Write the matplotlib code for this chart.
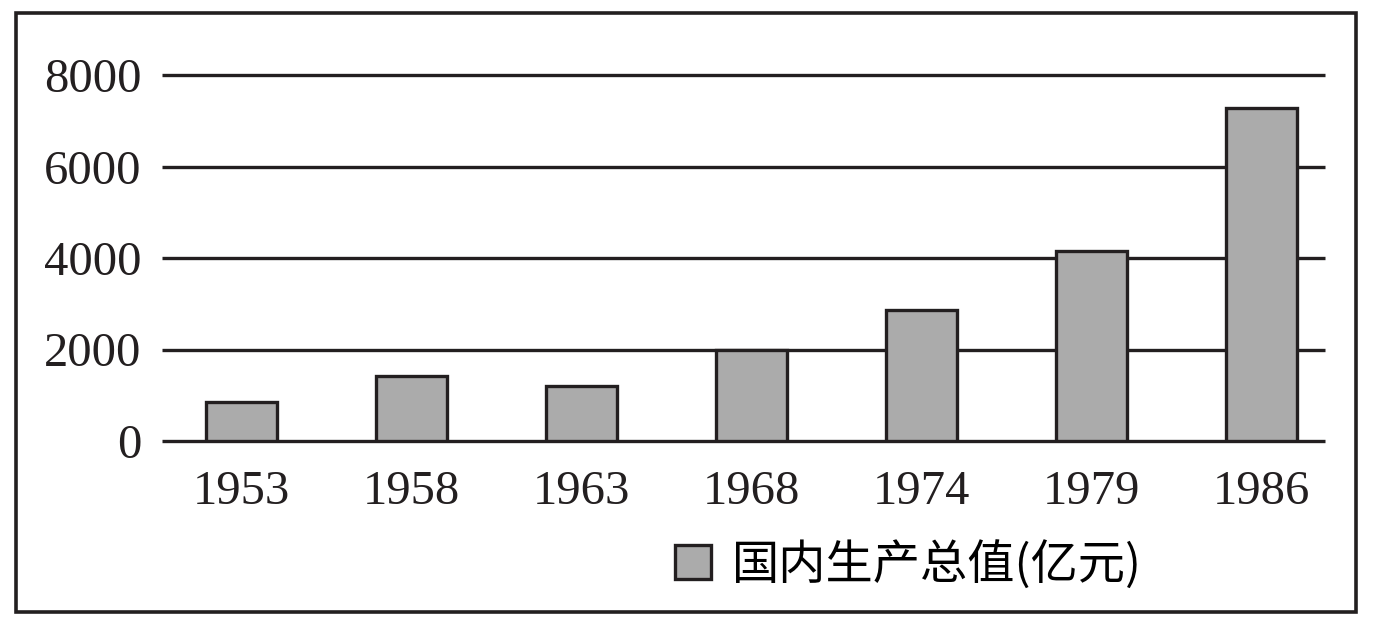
import matplotlib
matplotlib.use("Agg")
import matplotlib.pyplot as plt
from matplotlib.patches import Patch, Rectangle

# -------- DATA --------
years = ["1953", "1958", "1963", "1968", "1974", "1979", "1986"]
gdp = [850, 1430, 1210, 1990, 2870, 4160, 7280]
yticks = [0, 2000, 4000, 6000, 8000]
legend_label = "国内生产总值(亿元)"

DARK = "#231f20"
GREY = "#ababab"

plt.rcParams['font.family'] = ['Liberation Serif', 'Noto Sans CJK SC']

W, H = 1373, 627
fig = plt.figure(figsize=(W / 100, H / 100), dpi=100)
ax = fig.add_axes([162 / W, 1 - 441 / H, (1325 - 162) / W, (441 - 75) / H])

x = list(range(len(years)))
ax.bar(x, gdp, width=0.418, color=GREY, edgecolor=DARK, linewidth=2.4, zorder=3)

# grid lines, drawn unclipped so the 0 and 8000 lines keep full width
for v in yticks:
    ax.axhline(v, color=DARK, linewidth=2.4, zorder=2, clip_on=False,
               solid_capstyle='butt')

ax.set_xlim(-0.468, 6.374)
ax.set_ylim(0, 8000)
ax.set_xticks(x)
ax.set_xticklabels(years, fontsize=35, color=DARK)
ax.set_yticks(yticks)
ax.set_yticklabels([str(v) for v in yticks], fontsize=35, color=DARK)
ax.tick_params(length=0)
ax.tick_params(axis='x', pad=21)
ax.tick_params(axis='y', pad=15)
for s in ax.spines.values():
    s.set_visible(False)

# -------- LEGEND --------
handle = Patch(facecolor=GREY, edgecolor=DARK, linewidth=2.4)
fig.legend(handles=[handle], labels=[legend_label], loc='center left',
           bbox_to_anchor=(675 / W, 1 - 565 / H), frameon=False,
           borderpad=0, borderaxespad=0, handlelength=0.76, handleheight=0.76,
           handletextpad=0.45,
           prop={'family': ['Noto Sans CJK SC', 'Liberation Serif'], 'size': 34})

# -------- FRAME --------
fig.patches.append(Rectangle((16 / W, 1 - 612 / H), (1356 - 16) / W, (612 - 13) / H,
                             transform=fig.transFigure, fill=False,
                             edgecolor=DARK, linewidth=2.6))

fig.savefig("out.png", dpi=100, facecolor="white")
